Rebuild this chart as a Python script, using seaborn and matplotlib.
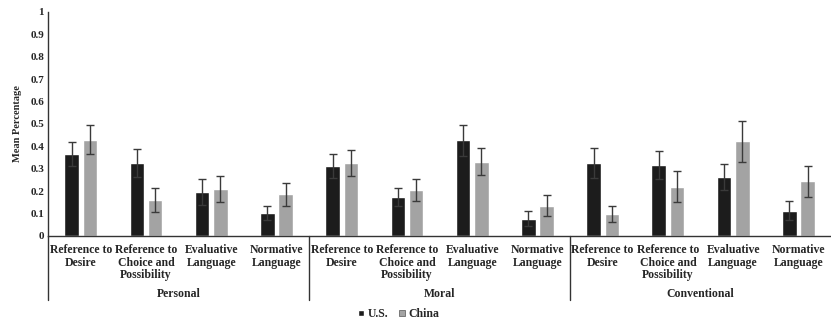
import numpy as np
import pandas as pd
import matplotlib
matplotlib.use("Agg")
import matplotlib.pyplot as plt
import seaborn as sns

sns.set_style("white")
plt.rcParams["font.family"] = ["Liberation Serif", "DejaVu Serif"]
plt.rcParams["font.weight"] = "bold"

groups = ["Personal", "Moral", "Conventional"]
categories = ["Reference to\nDesire", "Reference to\nChoice and\nPossibility",
              "Evaluative\nLanguage", "Normative\nLanguage"]
countries = ["U.S.", "China"]

us_mean = [0.365, 0.326, 0.196, 0.102,
           0.312, 0.175, 0.427, 0.077,
           0.325, 0.317, 0.262, 0.113]
us_err = [0.055, 0.062, 0.057, 0.032,
          0.053, 0.040, 0.070, 0.032,
          0.068, 0.063, 0.057, 0.043]
china_mean = [0.430, 0.160, 0.210, 0.185,
              0.325, 0.205, 0.332, 0.135,
              0.097, 0.220, 0.422, 0.243]
china_err = [0.063, 0.052, 0.057, 0.052,
             0.057, 0.048, 0.062, 0.047,
             0.037, 0.068, 0.092, 0.070]

keys = [f"{g}|{c}" for g in groups for c in categories]
df = pd.DataFrame({
    "key": keys * 2,
    "country": ["U.S."] * len(keys) + ["China"] * len(keys),
    "mean": us_mean + china_mean,
    "err": us_err + china_err,
})

fig = plt.figure(figsize=(8.31, 3.24), dpi=100)
ax = fig.add_axes([0.058, 0.272, 0.942, 0.691])

sns.barplot(data=df, x="key", y="mean", hue="country", order=keys,
            hue_order=countries, palette=["#1c1c1c", "#a3a3a3"],
            width=0.56, gap=0.2, errorbar=None, ax=ax, legend=False)

# error bars at bar centres
for container, (m, e) in zip(ax.containers, [(us_mean, us_err), (china_mean, china_err)]):
    xs = [p.get_x() + p.get_width() / 2 for p in container.patches]
    ax.errorbar(xs, m, yerr=e, fmt="none", ecolor="#3a3a3a",
                elinewidth=1, capsize=3, capthick=1)

ax.set_xlim(-0.5, len(keys) - 0.5)
ax.set_ylim(0, 1)
ax.set_yticks(np.arange(0, 1.01, 0.1))
ax.set_yticklabels(["0"] + [f"{v:.1f}" for v in np.arange(0.1, 0.95, 0.1)] + ["1"],
                   fontsize=8, fontweight="bold")
ax.set_xticks(range(len(keys)))
ax.set_xticklabels(categories * 3, fontsize=8.5, fontweight="bold", linespacing=1.05)
ax.tick_params(axis="both", length=0, pad=3)
ax.tick_params(axis="x", pad=6)
ax.set_xlabel("")
ax.set_ylabel("Mean Percentage", fontsize=7.5, fontweight="bold", labelpad=6)

for s in ["top", "right"]:
    ax.spines[s].set_visible(False)
ax.spines["left"].set_color("#333333")
ax.spines["bottom"].set_color("#333333")
ax.spines["left"].set_linewidth(1)
ax.spines["bottom"].set_linewidth(1)

# group separators below the axis
trans = ax.get_xaxis_transform()
for xb in [-0.5, 3.5, 7.5]:
    ax.plot([xb, xb], [0, -0.286], transform=trans, color="#333333",
            lw=1, clip_on=False)
for i, g in enumerate(groups):
    ax.text(i * 4 + 1.5, -0.258, g, transform=trans, ha="center", va="center",
            fontsize=8.5, fontweight="bold")

handles = [plt.Rectangle((0, 0), 1, 1, fc="#1c1c1c"),
           plt.Rectangle((0, 0), 1, 1, fc="#a3a3a3", ec="#555555", lw=0.5)]
fig.legend(handles, countries, loc="center", bbox_to_anchor=(0.48, 0.03),
           ncol=2, frameon=False, handlelength=0.5,
           handleheight=0.5, handletextpad=0.3, columnspacing=0.9,
           prop={"weight": "bold", "size": 8.5})

fig.savefig("out.png", dpi=100)
